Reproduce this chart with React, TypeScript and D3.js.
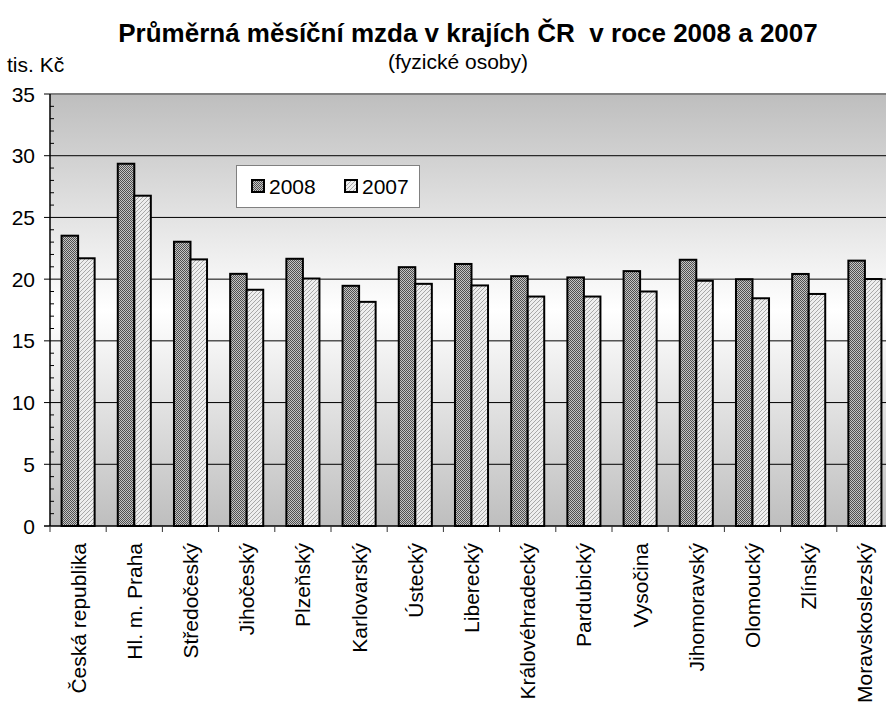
import React from "react";
import * as d3 from "d3";

const categories = [
  "Česká republika", "Hl. m. Praha", "Středočeský", "Jihočeský", "Plzeňský",
  "Karlovarský", "Ústecký", "Liberecký", "Královéhradecký", "Pardubický",
  "Vysočina", "Jihomoravský", "Olomoucký", "Zlínský", "Moravskoslezský",
];
const values2008 = [23.52, 29.35, 23.03, 20.43, 21.65, 19.46, 20.97, 21.23, 20.24, 20.14, 20.65, 21.57, 19.99, 20.42, 21.5];
const values2007 = [21.69, 26.76, 21.6, 19.14, 20.05, 18.16, 19.62, 19.49, 18.59, 18.59, 19.0, 19.87, 18.45, 18.8, 20.01];
const seriesNames = ["2008", "2007"];
const yTicks = [0, 5, 10, 15, 20, 25, 30, 35];

const W = 886, H = 704;
const FONT = "'Liberation Sans', Arial, sans-serif";

export default function App() {
  const left = 50, right = 893, top = 94, bottom = 526;
  const x = d3.scaleBand<string>().domain(categories).range([left, right]).paddingInner(0).paddingOuter(0);
  const inner = d3.scaleBand<string>().domain(seriesNames).range([0, x.bandwidth()]).paddingInner(0).paddingOuter(0.7);
  const y = d3.scaleLinear().domain([0, 35]).range([bottom, top]);
  const minor = d3.range(0, 36, 1);

  const fills = ["url(#p2008)", "url(#p2007)"];
  const series = [values2008, values2007];

  return (
    <svg width={W} height={H} style={{ position: "absolute", left: 0, top: 0, background: "#fff" }} fontFamily={FONT}>
      <defs>
        <linearGradient id="bg" x1="0" y1="0" x2="0" y2="1">
          <stop offset="0" stopColor="#bebebe" />
          <stop offset="0.5" stopColor="#ffffff" />
          <stop offset="1" stopColor="#bebebe" />
        </linearGradient>
        <pattern id="p2008" width="2" height="2" patternUnits="userSpaceOnUse">
          <rect width="2" height="2" fill="#c4c4c4" />
          <rect width="1" height="1" fill="#505050" />
          <rect x="1" y="1" width="1" height="1" fill="#505050" />
        </pattern>
        <pattern id="p2007" width="4" height="4" patternUnits="userSpaceOnUse">
          <rect width="4" height="4" fill="#eeeeee" />
          <path d="M0,4 L4,0 M-1,1 L1,-1 M3,5 L5,3" stroke="#a8a8a8" strokeWidth="1" />
        </pattern>
      </defs>

      <text x={468} y={42} textAnchor="middle" fontWeight="bold" fontSize={26}>
        Průměrná měsíční mzda v krajích ČR{"\u00a0\u00a0"}v roce 2008 a 2007
      </text>
      <text x={458} y={69} textAnchor="middle" fontSize={21}>(fyzické osoby)</text>
      <text x={7} y={72} fontSize={21}>tis. Kč</text>

      <rect x={left} y={top} width={right - left} height={bottom - top} fill="url(#bg)" />

      {yTicks.filter(t => t > 0 && t < 35).map(t => (
        <line key={"g" + t} x1={left - 6} x2={right} y1={y(t)} y2={y(t)} stroke="#000" strokeWidth={1} />
      ))}
      <line x1={left} x2={right} y1={y(35)} y2={y(35)} stroke="#808080" strokeWidth={2} />
      <line x1={left - 6} x2={left} y1={y(35)} y2={y(35)} stroke="#000" strokeWidth={1} />

      {minor.filter(t => t % 5 !== 0).map(t => (
        <line key={"m" + t} x1={left} x2={left + 4} y1={y(t)} y2={y(t)} stroke="#000" strokeWidth={1} />
      ))}

      {categories.map((c, i) =>
        series.map((vals, s) => {
          const bx = (x(c) as number) + (inner(seriesNames[s]) as number);
          const by = y(vals[i]);
          return (
            <rect key={c + s} x={bx} y={by} width={inner.bandwidth()} height={y(0) - by}
              fill={fills[s]} stroke="#000" strokeWidth={2} />
          );
        })
      )}

      <line x1={left} x2={left} y1={top} y2={bottom} stroke="#000" strokeWidth={1.5} />
      <line x1={left - 6} x2={right} y1={bottom} y2={bottom} stroke="#000" strokeWidth={1.5} />
      {d3.range(0, categories.length + 1).map(k => {
        const xx = left + k * x.bandwidth();
        return <line key={"ct" + k} x1={xx} x2={xx} y1={bottom} y2={bottom + 6} stroke="#333" strokeWidth={1} />;
      })}

      {yTicks.map(t => (
        <text key={"yl" + t} x={35} y={y(t)} dy="0.36em" textAnchor="end" fontSize={21}>{t}</text>
      ))}

      {categories.map(c => {
        const cx = (x(c) as number) + x.bandwidth() / 2;
        const ty = 543;
        return (
          <text key={"cl" + c} transform={`translate(${cx},${ty}) rotate(-90)`} textAnchor="end" dy="0.36em" fontSize={21}>
            {c}
          </text>
        );
      })}

      <rect x={236.5} y={165.5} width={183} height={42} fill="#fff" stroke="#808080" strokeWidth={1} />
      {seriesNames.map((s, i) => {
        const sx = i === 0 ? 252 : 345;
        return (
          <g key={"lg" + s}>
            <rect x={sx} y={180} width={12} height={12} fill={fills[i]} stroke="#000" strokeWidth={2} />
            <text x={sx + 17} y={194} fontSize={21}>{s}</text>
          </g>
        );
      })}
    </svg>
  );
}
